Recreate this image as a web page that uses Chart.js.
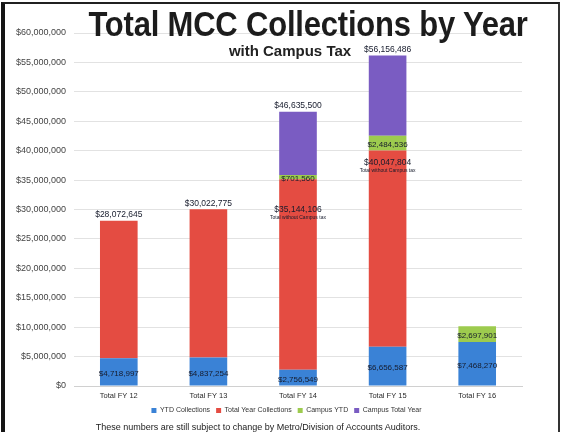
<!DOCTYPE html>
<html>
<head>
<meta charset="utf-8">
<script src="https://cdn.jsdelivr.net/npm/chart.js@4"></script>
<style>
  html, body { margin: 0; padding: 0; background: #fff; overflow: hidden; }
  body { width: 573px; height: 432px; position: relative; font-family: 'Liberation Sans', Arial, sans-serif; }
  #frame { position: absolute; left: 1px; top: 2px; width: 553px; height: 460px;
           border-left: 4px solid #151515; border-top: 2px solid #202020; border-right: 2px solid #333; }
  #chart { position: absolute; left: 0; top: 0; }
  #titulo { position: absolute; left: 0; width: 616px; top: 5px; text-align: center; font-weight: bold;
            font-size: 31px; color: #1c1c1c; transform: scaleY(1.12); transform-origin: top; letter-spacing: -0.2px; }
  #subtitulo { position: absolute; left: 0; width: 580px; top: 42px; text-align: center; font-weight: bold;
               font-size: 15px; color: #222; }
  #nota { position: absolute; left: 0; width: 516px; top: 422px; text-align: center; font-size: 9px; color: #222; }
</style>
</head>
<body>
<div id="frame"></div>
<canvas id="chart" width="573" height="432"></canvas>
<div id="titulo">Total MCC Collections by Year</div>
<div id="subtitulo">with Campus Tax</div>
<div id="nota">These numbers are still subject to change by Metro/Division of Accounts Auditors.</div>
<script>
const anos = ['Total FY 12', 'Total FY 13', 'Total FY 14', 'Total FY 15', 'Total FY 16'];
const ytdCollections = [4718997, 4837254, 2756549, 6656587, 7468270];
const totalYear = [28072645, 30022775, 35144106, 40047804, null];
const campusYtd = [null, null, 701560, 2484536, 2697901];
const campusTotalYear = [null, null, 46635500, 56156486, null];
const yTicks = [0, 5000000, 10000000, 15000000, 20000000, 25000000, 30000000,
                35000000, 40000000, 45000000, 50000000, 55000000, 60000000];

const moeda = v => '$' + Number(v).toLocaleString('en-US');

// segments of each stack, built from the cumulative totals
const segVermelho = totalYear.map((t, i) => t == null ? null : t - ytdCollections[i]);
const segRoxo = campusTotalYear.map((t, i) => t == null ? null : t - totalYear[i] - (campusYtd[i] || 0));

// labels drawn on the bars
const rotulos = {
    id: 'rotulos',
    afterDatasetsDraw(chart) {
        const ctx = chart.ctx;
        const azul = chart.getDatasetMeta(0).data;
        const verm = chart.getDatasetMeta(1).data;
        const verde = chart.getDatasetMeta(2).data;
        const roxo = chart.getDatasetMeta(3).data;
        const offsetTotal = { 2: 30, 3: 12 };
        ctx.save();
        ctx.textAlign = 'center';
        ctx.textBaseline = 'middle';
        ctx.fillStyle = '#161b2c';

        anos.forEach((_, i) => {
            const b = azul[i];
            ctx.font = '8px "Liberation Sans Narrow", "Liberation Sans", sans-serif';
            ctx.fillText(moeda(ytdCollections[i]), b.x, (b.y + b.base) / 2 + 2);

            if (totalYear[i] != null) {
                const r = verm[i];
                ctx.font = '8.5px "Liberation Sans", sans-serif';
                if (campusTotalYear[i] == null) {
                    ctx.fillText(moeda(totalYear[i]), r.x, r.y - 6);
                } else {
                    const y = r.y + offsetTotal[i];
                    ctx.fillText(moeda(totalYear[i]), r.x, y);
                    ctx.font = '5px "Liberation Sans", sans-serif';
                    ctx.fillText('Total without Campus tax', r.x, y + 8);
                }
            }
            if (campusYtd[i] != null) {
                const g = verde[i];
                ctx.font = '8px "Liberation Sans", sans-serif';
                ctx.fillText(moeda(campusYtd[i]), g.x, (g.y + g.base) / 2 + 2);
            }
            if (campusTotalYear[i] != null) {
                const p = roxo[i];
                ctx.font = '8.5px "Liberation Sans", sans-serif';
                ctx.fillText(moeda(campusTotalYear[i]), p.x, p.y - 6);
            }
        });
        ctx.restore();
    }
};

new Chart(document.getElementById('chart'), {
    type: 'bar',
    data: {
        labels: anos,
        datasets: [
            { label: 'YTD Collections', data: ytdCollections, backgroundColor: '#3a82d6' },
            { label: 'Total Year Collections', data: segVermelho, backgroundColor: '#e44c42' },
            { label: 'Campus YTD', data: campusYtd, backgroundColor: '#9dcb4e' },
            { label: 'Campus Total Year', data: segRoxo, backgroundColor: '#7a5cc2' }
        ]
    },
    options: {
        responsive: false,
        animation: false,
        barPercentage: 0.42,
        categoryPercentage: 1,
        layout: { padding: { top: 33, right: 0, left: 0, bottom: 8 } },
        plugins: {
            tooltip: { enabled: false },
            legend: {
                position: 'bottom',
                labels: {
                    boxWidth: 5,
                    boxHeight: 5,
                    padding: 6,
                    color: '#333',
                    font: { size: 7, family: '"Liberation Sans", sans-serif' }
                }
            }
        },
        scales: {
            x: {
                stacked: true,
                grid: { display: false, drawTicks: false },
                border: { color: '#d0d0d0' },
                ticks: { color: '#2a2a2a', padding: 5, font: { size: 7.5, family: '"Liberation Sans", sans-serif' } },
                afterFit(axis) { axis.height = 15; }
            },
            y: {
                stacked: true,
                min: 0,
                max: 60000000,
                afterBuildTicks(axis) { axis.ticks = yTicks.map(v => ({ value: v })); },
                grid: { color: '#e2e2e2', drawTicks: false },
                border: { display: false },
                ticks: {
                    color: '#444',
                    padding: 8,
                    font: { size: 9, family: '"Liberation Sans", sans-serif' },
                    callback: v => moeda(v)
                },
                afterFit(axis) { axis.width = 74; }
            },
            // empty right-hand margin so the legend stays centred on the page
            margem: {
                type: 'linear',
                position: 'right',
                display: true,
                grid: { display: false, drawTicks: false },
                border: { display: false },
                ticks: { display: false },
                afterFit(axis) { axis.width = 51; }
            }
        }
    },
    plugins: [rotulos]
});
</script>
</body>
</html>
